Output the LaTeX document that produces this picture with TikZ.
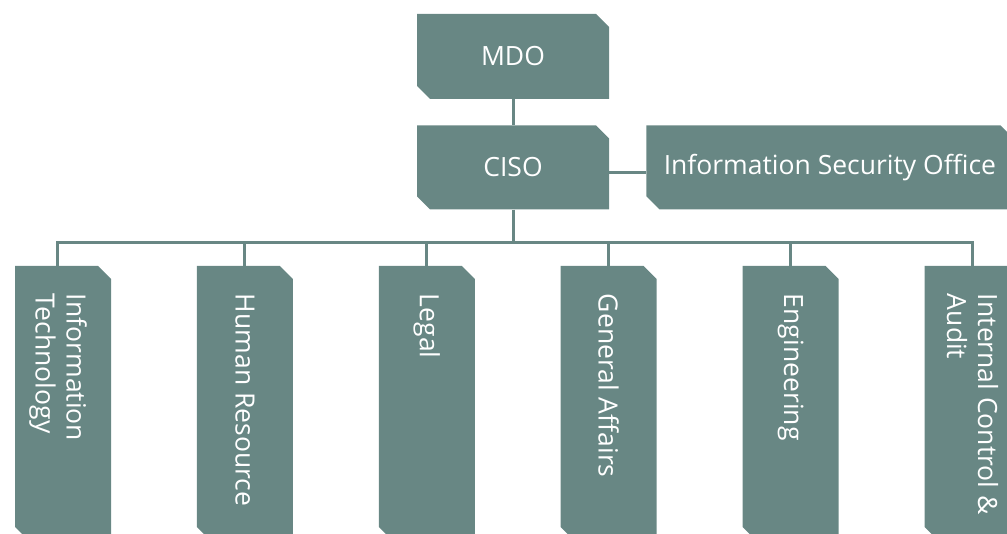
\documentclass[tikz,border=0pt]{standalone}
\usepackage{fontspec}
\setmainfont{Open Sans}
\usetikzlibrary{positioning}
\definecolor{slate}{HTML}{688784}

\begin{document}
\begin{tikzpicture}[x=1pt,y=1pt,
  unit/.style={rectangle,inner sep=0pt,text=white,font=\fontsize{26.5}{31}\selectfont,
    path picture={\fill[slate] (path picture bounding box.north west)
      -- ([xshift=-13pt]path picture bounding box.north east)
      -- ([yshift=-13pt]path picture bounding box.north east)
      -- (path picture bounding box.south east)
      -- ([xshift=13pt]path picture bounding box.south west)
      -- ([yshift=13pt]path picture bounding box.south west) -- cycle;}},
  dept/.style={unit,minimum width=96pt,minimum height=274pt},
  tag/.style={rotate=-90,anchor=west,inner sep=0pt,align=left,text=white,
    font=\fontsize{26.5}{31}\selectfont},
  link/.style={draw=slate,line width=3pt},
  node distance=26pt and 37pt
]
\useasboundingbox (0,0) rectangle (1007,534);
\node[unit,minimum width=192pt,minimum height=85pt] (mdo) at (513,477.5) {MDO};
\node[unit,minimum width=192pt,minimum height=84pt,below=of mdo] (ciso) {CISO};
\node[unit,minimum width=367pt,minimum height=84pt,right=of ciso] (iso) {Information Security Office};
% departments
\node[dept] (it) at (63,131) {};
\node[dept,right=85.5pt of it]    (hr)    {};
\node[dept,right=85.5pt of hr]    (legal) {};
\node[dept,right=85.5pt of legal] (ga)    {};
\node[dept,right=85.5pt of ga]    (eng)   {};
\node[dept,right=85.5pt of eng]   (ica)   {};
\node[tag] (itT)    at ([xshift=-5pt,yshift=-28pt]it.north) {Information\\Technology};
\node[tag] (hrT)    at ([yshift=-28pt]hr.north)    {Human Resource};
\node[tag] (legalT) at ([yshift=-28pt]legal.north) {Legal};
\node[tag] (gaT)    at ([yshift=-28pt]ga.north)    {General Affairs};
\node[tag] (engT)   at ([yshift=-28pt]eng.north)   {Engineering};
\node[tag] (icaT)   at ([yshift=-28pt]ica.north)   {Internal Control \&\\Audit};
% links
\draw[link] (mdo) -- (ciso);
\draw[link] ([yshift=-5pt]ciso.east) -- ([yshift=-5pt]iso.west);
\coordinate (bus) at ([yshift=-33pt]ciso.south);
\draw[link] (ciso) -- (bus);
\draw[link] (bus) -| ([xshift=-6pt]it.north);
\foreach \d in {hr,legal,ga,eng,ica}
  \draw[link] (bus) -| (\d.north);
\end{tikzpicture}
\end{document}
